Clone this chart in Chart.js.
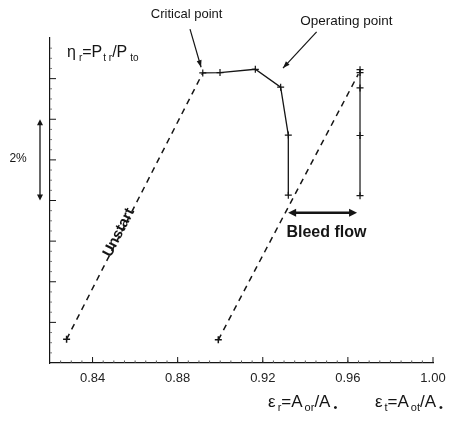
<!DOCTYPE html>
<html>
<head>
<meta charset="utf-8">
<script src="https://cdn.jsdelivr.net/npm/chart.js@4.4.1/dist/chart.umd.min.js"></script>
<style>
  html, body { margin: 0; padding: 0; background: #fff; }
  canvas { display: block; }
</style>
</head>
<body>
<canvas id="c" width="467" height="424"></canvas>
<script>
// ---- Data ----
// Critical-point / operating curve (epsilon_r, eta_r in %)
const criticalX = [0.8918, 0.8999, 0.9165, 0.9284, 0.9320, 0.9320];
const criticalY = [7.14, 7.15, 7.23, 6.79, 5.61, 4.13];
// Bleed-flow vertical line at epsilon_t
const bleedX = [0.9657, 0.9657, 0.9657, 0.9657, 0.9657];
const bleedY = [7.22, 7.15, 6.77, 5.60, 4.12];
// Unstart dashed line
const unstartX = [0.8278, 0.8918];
const unstartY = [0.585, 7.14];
// Second dashed line
const unstart2X = [0.8991, 0.9649];
const unstart2Y = [0.57, 7.11];
// Tick labels
const xTickValues = [0.84, 0.88, 0.92, 0.96, 1.00];
const xTickLabels = ['0.84', '0.88', '0.92', '0.96', '1.00'];
const yMajorTicks = [1, 2, 3, 4, 5, 6, 7];

const toPts = (xs, ys) => xs.map((x, i) => ({ x: x, y: ys[i] }));

const INK = '#151515';
const FONT = '"Liberation Sans", Arial, sans-serif';

// annotation anchors in data coordinates
const notes = {
  critical: { x: 0.8842, y: 8.57, text: 'Critical point' },
  criticalArrow: [[0.8858, 8.22], [0.8910, 7.28]],
  operating: { x: 0.9593, y: 8.42, text: 'Operating point' },
  operatingArrow: [[0.9453, 8.15], [0.9295, 7.26]],
  eta: { x: 0.8280, y: 7.65 },
  pct: { x: 0.8050, y: 5.04, text: '2%' },
  pctArrow: { x: 0.8153, y0: 4.0, y1: 6.0 },
  unstart: { x: 0.8524, y: 3.21, text: 'Unstart' },
  bleed: { x: 0.9499, y: 3.21, text: 'Bleed flow' },
  bleedArrow: { y: 3.70, x0: 0.9319, x1: 0.9643 },
  epsR: { x: 0.9225, y: -0.96 },
  epsT: { x: 0.9727, y: -0.96 }
};

function drawArrowHead(ctx, x0, y0, x1, y1, len, wid) {
  const a = Math.atan2(y1 - y0, x1 - x0);
  ctx.beginPath();
  ctx.moveTo(x1, y1);
  ctx.lineTo(x1 - len * Math.cos(a) + wid * Math.sin(a), y1 - len * Math.sin(a) - wid * Math.cos(a));
  ctx.lineTo(x1 - len * Math.cos(a) - wid * Math.sin(a), y1 - len * Math.sin(a) + wid * Math.cos(a));
  ctx.closePath();
  ctx.fill();
}

function drawRich(ctx, x, yMid, segs, size) {
  let cx = x;
  ctx.textBaseline = 'middle';
  ctx.textAlign = 'left';
  segs.forEach(s => {
    const fs = s.sub ? Math.round(size * 0.62) : size;
    ctx.font = fs + 'px ' + FONT;
    const dy = s.sub ? size * 0.35 : 0;
    ctx.fillText(s.t, cx, yMid + dy);
    cx += ctx.measureText(s.t).width + (s.gap || 0);
  });
}

const annotationPlugin = {
  id: 'annot',
  afterDraw(chart) {
    const ctx = chart.ctx;
    const xs = chart.scales.x, ys = chart.scales.y;
    const X = v => xs.getPixelForValue(v);
    const Y = v => ys.getPixelForValue(v);
    const area = chart.chartArea;
    ctx.save();
    ctx.fillStyle = INK;
    ctx.strokeStyle = INK;

    // inward ticks on y axis
    ctx.lineWidth = 1;
    yMajorTicks.forEach(v => {
      ctx.beginPath();
      ctx.moveTo(area.left, Y(v));
      ctx.lineTo(area.left + 6, Y(v));
      ctx.stroke();
    });
    ctx.strokeStyle = '#777';
    for (let v = 0.25; v < 8; v += 0.25) {
      if (Math.abs(v - Math.round(v)) < 1e-6) continue;
      ctx.beginPath();
      ctx.moveTo(area.left, Y(v));
      ctx.lineTo(area.left + 2, Y(v));
      ctx.stroke();
    }
    // inward ticks on x axis
    ctx.strokeStyle = '#555';
    for (let v = 0.825; v < 1.0; v += 0.005) {
      ctx.beginPath();
      ctx.moveTo(X(v), area.bottom);
      ctx.lineTo(X(v), area.bottom - 2.5);
      ctx.stroke();
    }
    ctx.strokeStyle = INK;
    xTickValues.forEach(v => {
      ctx.beginPath();
      ctx.moveTo(X(v), area.bottom);
      ctx.lineTo(X(v), area.bottom - 6);
      ctx.stroke();
    });

    // Critical / Operating point labels + arrows
    ctx.font = '13px ' + FONT;
    ctx.textAlign = 'center';
    ctx.textBaseline = 'middle';
    ctx.fillText(notes.critical.text, X(notes.critical.x), Y(notes.critical.y));
    ctx.font = '13.5px ' + FONT;
    ctx.fillText(notes.operating.text, X(notes.operating.x), Y(notes.operating.y));
    [notes.criticalArrow, notes.operatingArrow].forEach(a => {
      const x0 = X(a[0][0]), y0 = Y(a[0][1]), x1 = X(a[1][0]), y1 = Y(a[1][1]);
      ctx.lineWidth = 1.2;
      ctx.beginPath();
      ctx.moveTo(x0, y0);
      ctx.lineTo(x1, y1);
      ctx.stroke();
      drawArrowHead(ctx, x0, y0, x1, y1, 7, 2.5);
    });

    // eta label
    drawRich(ctx, X(notes.eta.x), Y(notes.eta.y), [
      { t: 'η', gap: 3 }, { t: 'r', sub: true }, { t: '=P', gap: 1 }, { t: 't r', sub: true },
      { t: '/P', gap: 3 }, { t: 'to', sub: true }
    ], 16);

    // 2% label and arrow
    ctx.font = '12px ' + FONT;
    ctx.textAlign = 'center';
    ctx.textBaseline = 'middle';
    ctx.fillText(notes.pct.text, X(notes.pct.x), Y(notes.pct.y));
    {
      const px = X(notes.pctArrow.x), a = Y(notes.pctArrow.y0), b = Y(notes.pctArrow.y1);
      ctx.lineWidth = 1.3;
      ctx.beginPath();
      ctx.moveTo(px, a - 4);
      ctx.lineTo(px, b + 4);
      ctx.stroke();
      drawArrowHead(ctx, px, (a + b) / 2, px, a, 6, 3);
      drawArrowHead(ctx, px, (a + b) / 2, px, b, 6, 3);
    }

    // Unstart rotated label
    {
      const ang = Math.atan2(Y(unstartY[1]) - Y(unstartY[0]), X(unstartX[1]) - X(unstartX[0]));
      ctx.save();
      ctx.translate(X(notes.unstart.x), Y(notes.unstart.y));
      ctx.rotate(ang);
      ctx.font = 'bold 15px ' + FONT;
      ctx.textAlign = 'center';
      ctx.textBaseline = 'middle';
      ctx.fillText(notes.unstart.text, 0, 0);
      ctx.restore();
    }

    // Bleed flow label + double arrow
    ctx.font = 'bold 16px ' + FONT;
    ctx.textAlign = 'center';
    ctx.textBaseline = 'middle';
    ctx.fillText(notes.bleed.text, X(notes.bleed.x), Y(notes.bleed.y));
    {
      const py = Y(notes.bleedArrow.y), a = X(notes.bleedArrow.x0), b = X(notes.bleedArrow.x1);
      ctx.lineWidth = 2.6;
      ctx.beginPath();
      ctx.moveTo(a + 5, py);
      ctx.lineTo(b - 5, py);
      ctx.stroke();
      drawArrowHead(ctx, (a + b) / 2, py, a, py, 8, 4);
      drawArrowHead(ctx, (a + b) / 2, py, b, py, 8, 4);
    }

    // x axis titles
    drawRich(ctx, X(notes.epsR.x), Y(notes.epsR.y), [
      { t: 'ε', gap: 2 }, { t: 'r', sub: true }, { t: '=A', gap: 2 }, { t: 'or', sub: true },
      { t: '/A', gap: 3 }, { t: '•', sub: true }
    ], 17);
    drawRich(ctx, X(notes.epsT.x), Y(notes.epsT.y), [
      { t: 'ε', gap: 2 }, { t: 't', sub: true }, { t: '=A', gap: 2 }, { t: 'ot', sub: true },
      { t: '/A', gap: 3 }, { t: '•', sub: true }
    ], 17);

    ctx.restore();
  }
};

new Chart(document.getElementById('c'), {
  type: 'scatter',
  data: {
    datasets: [
      {
        label: 'critical',
        data: toPts(criticalX, criticalY),
        showLine: true,
        borderColor: INK,
        borderWidth: 1.3,
        pointStyle: 'cross',
        pointRadius: 3.5,
        pointBorderColor: INK,
        pointBorderWidth: 1.2
      },
      {
        label: 'bleed',
        data: toPts(bleedX, bleedY),
        showLine: true,
        borderColor: INK,
        borderWidth: 1.2,
        pointStyle: 'cross',
        pointRadius: 3.5,
        pointBorderColor: INK,
        pointBorderWidth: 1.2
      },
      {
        label: 'unstart',
        data: toPts(unstartX, unstartY),
        showLine: true,
        borderColor: INK,
        borderWidth: 1.5,
        borderDash: [6, 5],
        pointStyle: 'cross',
        pointRadius: [3.5, 0],
        pointBorderColor: INK,
        pointBorderWidth: 1.5
      },
      {
        label: 'unstart2',
        data: toPts(unstart2X, unstart2Y),
        showLine: true,
        borderColor: INK,
        borderWidth: 1.5,
        borderDash: [6, 5],
        pointStyle: 'cross',
        pointRadius: [3.5, 0],
        pointBorderColor: INK,
        pointBorderWidth: 1.5
      }
    ]
  },
  options: {
    responsive: false,
    animation: false,
    layout: { padding: { left: 50, top: 38, right: 34, bottom: 0 } },
    plugins: { legend: { display: false }, tooltip: { enabled: false } },
    scales: {
      x: {
        type: 'linear',
        min: 0.82,
        max: 1.0,
        afterBuildTicks: s => { s.ticks = xTickValues.map(v => ({ value: v })); },
        afterFit: s => { s.height = 61; },
        grid: { display: false, drawTicks: false },
        border: { display: true, color: INK, width: 1.2 },
        ticks: {
          padding: 8,
          color: '#222',
          font: { family: FONT, size: 13 },
          maxRotation: 0,
          autoSkip: false,
          callback: (v, i) => xTickLabels[i]
        }
      },
      y: {
        type: 'linear',
        min: 0,
        max: 8,
        afterFit: s => { s.width = 0; },
        grid: { display: false, drawTicks: false },
        border: { display: true, color: INK, width: 1.2 },
        ticks: { display: false }
      }
    }
  },
  plugins: [annotationPlugin]
});
</script>
</body>
</html>
